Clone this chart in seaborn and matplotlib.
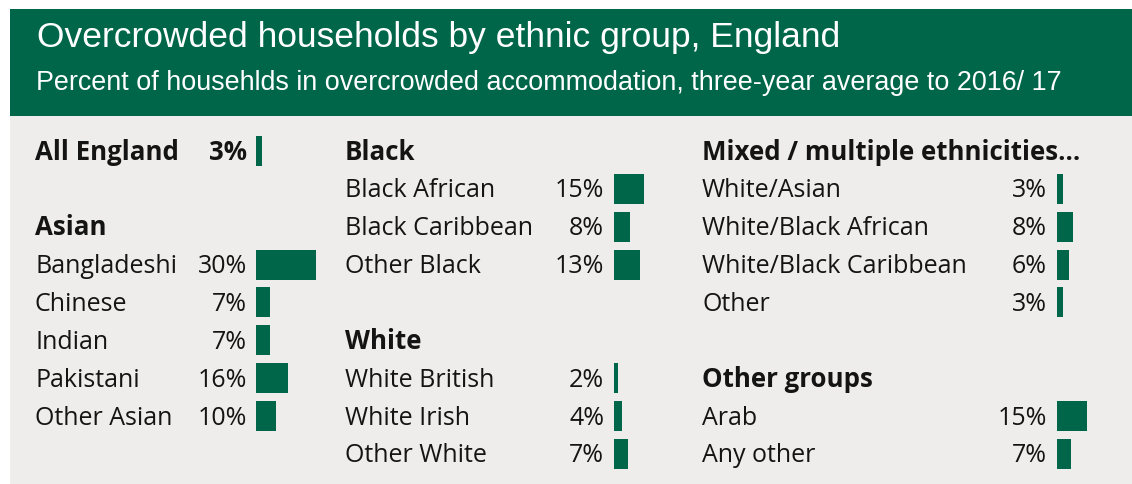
import matplotlib
matplotlib.use("Agg")
import matplotlib.pyplot as plt
from matplotlib.patches import Rectangle
import pandas as pd
import seaborn as sns

# ---- data -------------------------------------------------------------
title = "Overcrowded households by ethnic group, England"
subtitle = ("Percent of househlds in overcrowded accommodation, "
            "three-year average to 2016/ 17")

# column 1
col1_headers = ["Asian"]
col1_header_rows = [2]
col1_groups = ["All England", "Bangladeshi", "Chinese", "Indian",
               "Pakistani", "Other Asian"]
col1_rows = [0, 3, 4, 5, 6, 7]
col1_values = [3, 30, 7, 7, 16, 10]

# column 2
col2_headers = ["Black", "White"]
col2_header_rows = [0, 5]
col2_groups = ["Black African", "Black Caribbean", "Other Black",
               "White British", "White Irish", "Other White"]
col2_rows = [1, 2, 3, 6, 7, 8]
col2_values = [15, 8, 13, 2, 4, 7]

# column 3
col3_headers = ["Mixed / multiple ethnicities…", "Other groups"]
col3_header_rows = [0, 6]
col3_groups = ["White/Asian", "White/Black African", "White/Black Caribbean",
               "Other", "Arab", "Any other"]
col3_rows = [1, 2, 3, 4, 7, 8]
col3_values = [3, 8, 6, 3, 15, 7]

bold_groups = ["All England"]

# ---- style ------------------------------------------------------------
GREEN = "#006649"
PANEL = "#EEEDEB"
INK = "#141414"

sns.set_style("white")
plt.rcParams["font.family"] = ["Open Sans", "DejaVu Sans"]

W, H = 1132, 484
fig = plt.figure(figsize=(W / 100, H / 100), dpi=100)
fig.patch.set_facecolor("white")

base = fig.add_axes([0, 0, 1, 1])
base.set_xlim(0, W)
base.set_ylim(H, 0)
base.axis("off")

# header band and panel
base.add_patch(Rectangle((10, 9), W - 10, 107, color=GREEN, lw=0))
base.add_patch(Rectangle((10, 116), W - 10, H - 116, color=PANEL, lw=0))

base.text(37, 47, title, color="white", fontsize=25.5,
          family=["Liberation Sans", "DejaVu Sans"], va="baseline")
base.text(36, 90, subtitle, color="white", fontsize=19.4,
          family=["Liberation Sans", "DejaVu Sans"], va="baseline")

# row geometry
ROW0 = 151.0
STEP = 37.85
BASE_OFF = 8.6
PX_PER_PCT = 2.0
FS = 18.0
FS_BOLD = 18.6


def row_y(r):
    return ROW0 + STEP * r


columns = [
    dict(label_x=35, value_x=247, bar_x=256,
         headers=col1_headers, header_rows=col1_header_rows,
         groups=col1_groups, rows=col1_rows, values=col1_values),
    dict(label_x=345, value_x=604, bar_x=614,
         headers=col2_headers, header_rows=col2_header_rows,
         groups=col2_groups, rows=col2_rows, values=col2_values),
    dict(label_x=702, value_x=1047, bar_x=1057,
         headers=col3_headers, header_rows=col3_header_rows,
         groups=col3_groups, rows=col3_rows, values=col3_values),
]

bar_h_rows = 30.0 / STEP
span_px = 70  # width of each bar axes in pixels

for col in columns:
    for name, r in zip(col["headers"], col["header_rows"]):
        base.text(col["label_x"], row_y(r) + BASE_OFF, name, color=INK,
                  fontsize=FS_BOLD, fontweight="bold", va="baseline")
    for name, r, v in zip(col["groups"], col["rows"], col["values"]):
        is_bold = name in bold_groups
        wt = "bold" if is_bold else "normal"
        fs = FS_BOLD if is_bold else FS
        base.text(col["label_x"], row_y(r) + BASE_OFF, name, color=INK,
                  fontsize=fs, fontweight=wt, va="baseline")
        base.text(col["value_x"], row_y(r) + BASE_OFF, f"{v}%", color=INK,
                  fontsize=fs, fontweight=wt, va="baseline", ha="right")

    # bars: one axes per column, x in percent, y in row units
    bax = fig.add_axes([col["bar_x"] / W, 0, span_px / W, 1])
    df = pd.DataFrame({"row": col["rows"], "value": col["values"]})
    sns.barplot(data=df, x="value", y="row", orient="y", native_scale=True,
                width=bar_h_rows, color=GREEN, saturation=1, errorbar=None,
                linewidth=0, ax=bax)
    bax.set_xlim(0, span_px / PX_PER_PCT)
    bax.set_ylim((H - ROW0) / STEP, -ROW0 / STEP)
    bax.axis("off")
    bax.patch.set_alpha(0)

fig.savefig("out.png", dpi=100)
